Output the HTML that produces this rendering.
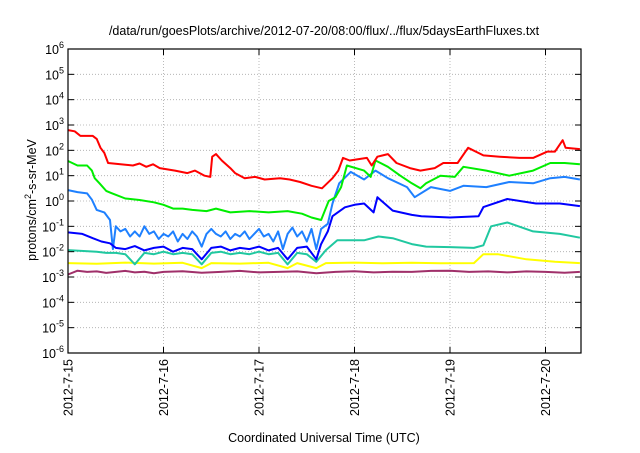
<!DOCTYPE html>
<html><head><meta charset="utf-8">
<style>
body{margin:0;background:#fff;}
svg text{font-family:"Liberation Sans",sans-serif;fill:#000;}
</style></head>
<body>
<svg id="chart" width="640" height="448" viewBox="0 0 640 448" xmlns="http://www.w3.org/2000/svg">
<rect width="640" height="448" fill="#fff"/>
<text x="324" y="35" font-size="12.5" text-anchor="middle">/data/run/goesPlots/archive/2012-07-20/08:00/flux/../flux/5daysEarthFluxes.txt</text>
<g id="grid"></g>
<g id="series"></g>
<g id="axes"></g>
<text transform="translate(36,200) rotate(-90)" font-size="12.5" text-anchor="middle">protons/cm<tspan dy="-5" font-size="9">2</tspan><tspan dy="5">-s-sr-MeV</tspan></text>
<text x="324" y="442" font-size="12.5" text-anchor="middle">Coordinated Universal Time (UTC)</text>
</svg>
<script>
const dayLabels=["2012-7-15","2012-7-16","2012-7-17","2012-7-18","2012-7-19","2012-7-20"];
const decadeExps=[-6,-5,-4,-3,-2,-1,0,1,2,3,4,5,6];

const redT=[0,.07,.13,.26,.3,.34,.38,.42,.55,.68,.75,.82,.89,.96,1.12,1.25,1.33,1.43,1.49,1.51,1.55,1.61,1.7,1.75,1.85,1.96,2.06,2.22,2.32,2.43,2.55,2.66,2.77,2.83,2.88,2.95,3.13,3.18,3.24,3.35,3.44,3.58,3.69,3.84,3.93,4.08,4.19,4.35,4.52,4.73,4.87,5.02,5.1,5.18,5.21,5.36];
const redLog=[2.8,2.75,2.57,2.57,2.45,2.1,1.9,1.5,1.45,1.4,1.48,1.35,1.45,1.3,1.2,1.1,1.2,1.0,0.95,1.75,1.85,1.6,1.3,1.1,0.9,0.95,0.85,0.9,0.85,0.75,0.6,0.5,0.9,1.2,1.7,1.6,1.7,1.4,1.75,1.85,1.5,1.3,1.2,1.3,1.5,1.5,2.1,1.8,1.75,1.7,1.7,1.95,1.95,2.4,2.1,2.05];

const greenT=[0,.1,.2,.25,.28,.33,.4,.45,.6,.75,.9,1.0,1.1,1.2,1.3,1.45,1.55,1.7,1.9,2.1,2.3,2.45,2.55,2.65,2.73,2.8,2.86,2.92,3.1,3.17,3.22,3.35,3.48,3.6,3.69,3.75,3.9,4.05,4.14,4.38,4.62,4.87,5.05,5.2,5.36];
const greenLog=[1.58,1.4,1.4,1.2,0.9,0.7,0.4,0.32,0.1,0.04,-0.05,-0.15,-0.3,-0.3,-0.35,-0.4,-0.3,-0.45,-0.4,-0.45,-0.4,-0.5,-0.65,-0.75,0.0,0.15,0.55,1.4,1.2,0.95,1.6,1.35,1.0,0.7,0.5,0.7,1.0,0.95,1.35,1.2,1.0,1.2,1.5,1.5,1.45];

const lblueT=[0,.1,.2,.25,.3,.38,.44,.47,.5,.55,.6,.65,.7,.75,.8,.85,.9,.95,1.0,1.05,1.1,1.15,1.2,1.25,1.3,1.35,1.4,1.45,1.5,1.55,1.6,1.65,1.7,1.75,1.8,1.85,1.9,1.95,2.0,2.05,2.1,2.15,2.2,2.25,2.3,2.35,2.4,2.45,2.5,2.55,2.6,2.65,2.72,2.77,2.84,2.96,3.1,3.22,3.35,3.55,3.63,3.8,4.0,4.14,4.38,4.62,4.87,5.05,5.2,5.36];
const lblueLog=[0.43,0.35,0.3,0.05,-0.35,-0.45,-0.75,-1.9,-1.0,-1.2,-1.1,-1.4,-1.2,-1.4,-1.0,-1.3,-1.2,-1.5,-1.3,-1.4,-1.2,-1.6,-1.3,-1.5,-1.2,-1.4,-1.8,-1.3,-1.1,-1.3,-1.4,-1.2,-1.5,-1.3,-1.4,-1.2,-1.5,-1.3,-1.1,-1.4,-1.3,-1.6,-1.2,-1.9,-1.3,-1.05,-1.4,-1.2,-1.6,-1.1,-1.9,-1.1,-0.9,-0.1,0.7,1.15,0.85,1.2,0.9,0.55,0.15,0.55,0.4,0.6,0.55,0.75,0.7,0.9,0.95,0.85];

const blueT=[0,.15,.26,.35,.44,.5,.6,.7,.8,.9,1.0,1.1,1.2,1.3,1.4,1.5,1.6,1.7,1.8,1.9,2.0,2.1,2.2,2.3,2.4,2.5,2.6,2.65,2.72,2.77,2.9,3.0,3.1,3.2,3.24,3.3,3.4,3.6,3.7,4.0,4.3,4.35,4.6,4.9,5.15,5.36];
const blueLog=[-1.24,-1.3,-1.47,-1.6,-1.67,-1.85,-1.9,-1.78,-1.95,-1.85,-1.8,-2.0,-1.85,-1.9,-2.3,-1.85,-1.8,-1.95,-1.85,-1.9,-1.8,-1.95,-1.85,-2.3,-1.85,-1.8,-2.3,-1.7,-1.2,-0.6,-0.25,-0.15,-0.1,-0.45,0.15,-0.05,-0.38,-0.55,-0.6,-0.65,-0.6,-0.24,0.08,-0.1,-0.1,-0.2];

const tealT=[0,.3,.4,.5,.6,.7,.8,.9,1.0,1.1,1.2,1.3,1.4,1.5,1.6,1.7,1.8,1.9,2.0,2.1,2.2,2.3,2.4,2.5,2.6,2.7,2.82,3.1,3.25,3.4,3.6,3.75,4.0,4.25,4.35,4.43,4.6,4.87,5.15,5.36];
const tealLog=[-1.94,-2.0,-2.05,-2.05,-2.1,-2.5,-2.05,-2.1,-2.0,-2.1,-2.05,-2.1,-2.5,-2.05,-2.0,-2.1,-2.05,-2.1,-2.0,-2.1,-2.05,-2.5,-2.05,-2.1,-2.4,-1.94,-1.55,-1.55,-1.4,-1.47,-1.7,-1.8,-1.82,-1.85,-1.75,-1.0,-0.85,-1.2,-1.3,-1.45];

const yellowT=[0,.3,.6,.9,1.2,1.4,1.5,1.8,2.1,2.3,2.4,2.6,2.7,3.0,3.3,3.6,3.9,4.25,4.35,4.5,4.8,5.1,5.36];
const yellowLog=[-2.45,-2.48,-2.43,-2.47,-2.44,-2.65,-2.45,-2.47,-2.44,-2.65,-2.45,-2.65,-2.45,-2.43,-2.46,-2.44,-2.46,-2.45,-2.1,-2.1,-2.3,-2.4,-2.45];

const purpleT=[0,.1,.2,.3,.4,.5,.6,.7,.8,.9,1.0,1.2,1.4,1.6,1.8,2.0,2.2,2.4,2.6,2.8,3.0,3.2,3.4,3.6,3.8,4.0,4.2,4.4,4.6,4.8,5.0,5.2,5.36];
const purpleLog=[-2.9,-2.75,-2.8,-2.78,-2.84,-2.8,-2.76,-2.82,-2.79,-2.85,-2.8,-2.77,-2.83,-2.8,-2.76,-2.82,-2.8,-2.78,-2.85,-2.8,-2.77,-2.82,-2.79,-2.8,-2.76,-2.75,-2.8,-2.78,-2.82,-2.78,-2.8,-2.83,-2.8];

const L=68,R=581,T=49,B=353,dayW=95.5;
function X(d){return L+d*dayW;}
function Y(e){return T+(6-e)*(B-T)/12;}
const NS="http://www.w3.org/2000/svg";
function mk(tag,attrs,parent){const el=document.createElementNS(NS,tag);for(const k in attrs)el.setAttribute(k,attrs[k]);parent.appendChild(el);return el;}
const grid=document.getElementById('grid'),axes=document.getElementById('axes'),ser=document.getElementById('series');

decadeExps.forEach(e=>{
  const y=Y(e);
  if(e>-6&&e<6){const g=mk('line',{x1:L,x2:R,y1:y,y2:y,stroke:'#aaa','stroke-width':0.8,'stroke-dasharray':'1,2'},grid);
  
  }
  mk('line',{x1:L,x2:L+6,y1:y,y2:y,stroke:'#000'},axes);
  mk('line',{x1:R,x2:R-6,y1:y,y2:y,stroke:'#000'},axes);
  const t=mk('text',{x:L-4,y:y+5,'font-size':'12.5','text-anchor':'end'},axes);
  
  
  t.innerHTML='10<tspan dy="-6" font-size="9">'+e+'</tspan>';
});
dayLabels.forEach((lab,i)=>{
  const x=X(i);
  if(i>0){const g=mk('line',{x1:x,x2:x,y1:T,y2:B,stroke:'#aaa','stroke-width':0.8,'stroke-dasharray':'1,2'},grid);
  
  }
  mk('line',{x1:x,x2:x,y1:B,y2:B-6,stroke:'#000'},axes);
  mk('line',{x1:x,x2:x,y1:T,y2:T+6,stroke:'#000'},axes);
  const t=mk('text',{x:0,y:0,'font-size':'12.5','text-anchor':'end',transform:'translate('+(x+4.5)+','+(B+6)+') rotate(-90)'},axes);
  
  
  t.textContent=lab;
});
const box=mk('rect',{x:L,y:T,width:R-L,height:B-T,fill:'none',stroke:'#000','stroke-width':1.2},axes);



const seriesList=[
 ['purple-series',purpleT,purpleLog,'#a0306a'],
 ['yellow-series',yellowT,yellowLog,'#ffff00'],
 ['teal-series',tealT,tealLog,'#20c8a0'],
 ['lightblue-series',lblueT,lblueLog,'#1e80ff'],
 ['blue-series',blueT,blueLog,'#0000ff'],
 ['green-series',greenT,greenLog,'#00ee00'],
 ['red-series',redT,redLog,'#ff0000']
];
seriesList.forEach(s=>{
  const pts=s[1].map((t,i)=>X(t).toFixed(1)+','+Y(s[2][i]).toFixed(1)).join(' ');
  const p=mk('polyline',{points:pts,fill:'none',stroke:s[3],'stroke-width':2,'stroke-linejoin':'round'},ser);
  
  
});
</script>
</body></html>
